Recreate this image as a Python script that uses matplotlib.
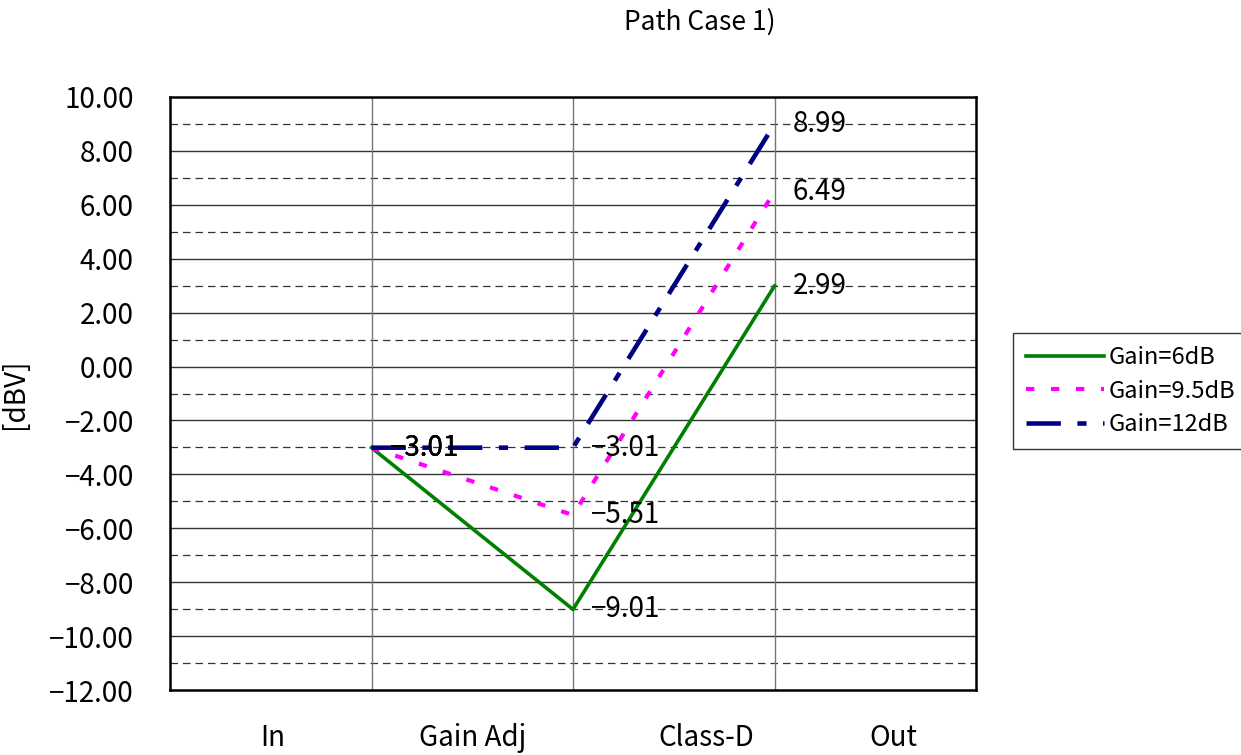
import matplotlib
matplotlib.use("Agg")
import matplotlib.pyplot as plt

plt.rcParams['font.family'] = ['Noto Sans CJK JP', 'DejaVu Sans']

stages = ['In', 'Gain Adj', 'Class-D', 'Out']
stage_pos = [0.51, 1.50, 2.66, 3.59]
x_pts = [1, 2, 3]
series_names = ['Gain=6dB', 'Gain=9.5dB', 'Gain=12dB']
gain_6 = [-3.01, -9.01, 2.99]
gain_9_5 = [-3.01, -5.51, 6.49]
gain_12 = [-3.01, -3.01, 8.99]
colors = ['#008000', '#ff00ff', '#000080']
widths = [2.6, 3.0, 3.3]
dash_styles = ['-', (0, (2.0, 4.0)), (0, (7.5, 3.6, 2.0, 3.6))]

fig = plt.figure(figsize=(12.41, 7.55), dpi=100)
ax = fig.add_axes([170/1241, 1-690/755, 806/1241, 593/755])

# grid: solid at even values, dashed at odd values
for y in range(-10, 10, 2):
    ax.axhline(y, color='#333333', lw=1.0, zorder=1)
for y in range(-11, 10, 2):
    ax.axhline(y, color='#333333', lw=0.9, ls=(0, (6, 4)), zorder=1)
for x in x_pts:
    ax.axvline(x, color='#777777', lw=1.0, zorder=1)

for vals, name, c, lw, ls in zip([gain_6, gain_9_5, gain_12], series_names, colors, widths, dash_styles):
    ax.plot(x_pts, vals, color=c, lw=lw, ls=ls, label=name, zorder=3)
    for x, v in zip(x_pts, vals):
        ax.annotate(f'{v:.2f}'.replace('-', '\u2212'), (x, v), xytext=(13, 0),
                    textcoords='offset points', va='center', ha='left',
                    fontsize=20, zorder=4)

ax.set_xlim(0, 4)
ax.set_ylim(-12, 10)
ax.set_yticks(range(-12, 11, 2))
ax.set_yticklabels([f'{v:.2f}'.replace('-', '\u2212') for v in range(-12, 11, 2)], fontsize=20)
ax.set_xticks(stage_pos)
ax.set_xticklabels(stages, fontsize=20)
ax.tick_params(axis='x', length=0, pad=24)
ax.tick_params(axis='y', length=0, pad=26)
ax.set_ylabel('[dBV]', fontsize=20, labelpad=14)
for s in ax.spines.values():
    s.set_linewidth(1.8)
    s.set_color('black')

fig.text(700/1241, 1-22/755, 'Path Case 1)', ha='center', va='center', fontsize=19)

leg = fig.legend(loc='upper left', bbox_to_anchor=(1013/1241, 1-333/755),
                 fontsize=17, frameon=True, fancybox=False, edgecolor='black',
                 handlelength=3.3, handletextpad=0.2, borderpad=0.55, labelspacing=0.45,
                 borderaxespad=0)
leg.get_frame().set_linewidth(1.0)

fig.savefig('out.png', dpi=100)
